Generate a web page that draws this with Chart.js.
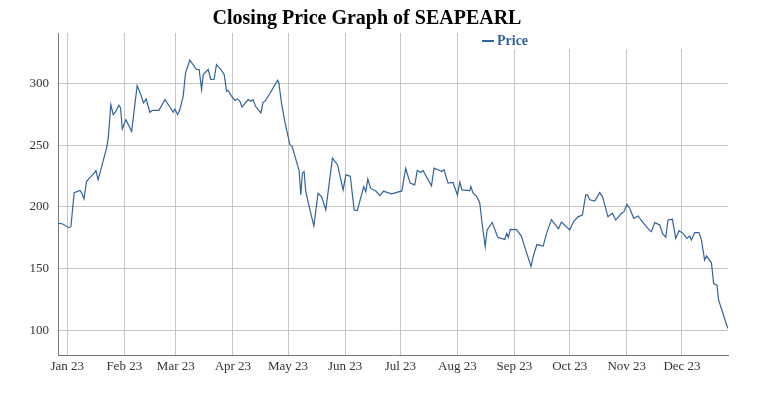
<!DOCTYPE html>
<html>
<head>
<meta charset="utf-8">
<script src="https://cdn.jsdelivr.net/npm/chart.js@4.4.0/dist/chart.umd.min.js"></script>
<style>
  body { margin: 0; background: #fff; }
  canvas { display: block; }
</style>
</head>
<body>
<canvas id="priceChart" width="765" height="400"></canvas>
<script>
// day of year 2023 (Jan 1 = 0) for each closing price
var days = [-5, -2.7, 0.9, 2.0, 3.8, 6.9, 7.8, 9.1, 10.5, 12.3, 14.7, 15.6, 16.8, 19.2, 21.4, 22.3, 23.7, 25.0, 26.4, 28.1,
    29.0, 29.9, 31.9, 35.0, 38.0, 40.0, 41.5, 42.9, 44.9, 46.2, 49.8, 53.1, 55.8, 57.6, 58.5, 60.0, 61.2, 63.0, 64.3, 66.6,
    68.4, 70.3, 71.7, 73.0, 73.9, 76.6, 78.0, 79.8, 81.1, 83.5, 85.3, 86.6, 87.4, 89.3, 91.1, 92.5, 93.8, 95.0, 96.5, 98.3,
    99.8, 101.0, 102.3, 105.2, 106.4, 107.4, 110.1, 112.3, 114.3, 115.0, 116.4, 118.2, 121.0, 122.2, 124.6, 126.0, 126.9, 127.8, 128.7, 129.6,
    131.8, 134.0, 136.3, 138.2, 140.5, 144.1, 146.9, 149.9, 151.4, 153.8, 155.9, 157.6, 161.1, 162.2, 163.3, 164.9, 167.8, 169.8, 171.8, 176.2,
    181.8, 183.9, 186.3, 188.8, 190.2, 192.1, 193.3, 197.9, 199.3, 202.4, 203.3, 204.7, 206.9, 209.6, 212.0, 213.3, 214.5, 218.7, 219.3, 220.5,
    222.3, 224.1, 225.3, 227.1, 228.1, 230.9, 233.9, 237.7, 238.8, 239.7, 240.7, 244.2, 246.8, 249.1, 252.0, 253.3, 255.2, 258.6, 260.4, 263.1,
    266.9, 268.5, 273.0, 275.0, 277.5, 279.9, 281.7, 282.6, 283.9, 286.6, 289.3, 290.8, 293.8, 296.2, 298.0, 301.1, 302.5, 304.1, 305.6, 307.8,
    310.1, 313.2, 316.5, 317.4, 319.2, 321.9, 323.4, 325.2, 326.4, 328.8, 330.6, 332.4, 334.6, 336.7, 338.2, 339.1, 340.9, 343.2, 344.5, 346.3,
    347.3, 350.0, 351.2, 353.0, 353.9, 356.3, 357.7, 359.0];

var prices = [186.7, 186.4, 183.2, 184.0, 211.6, 213.3, 211.6, 206.5, 220.6, 223.8, 227.4, 229.5, 222.0, 235.5, 247.7, 255.8, 282.9, 274.8, 277.5, 282.4,
    280.2, 263.2, 270.7, 261.2, 298.4, 291.0, 284.3, 287.5, 276.7, 278.3, 278.3, 287.0, 281.0, 276.7, 279.4, 274.8, 278.9, 289.7, 308.7, 319.0,
    315.4, 311.4, 311.4, 295.1, 307.3, 311.4, 303.3, 303.3, 315.4, 311.4, 307.3, 293.8, 294.6, 289.7, 286.5, 287.6, 285.7, 281.0, 283.7, 287.0,
    285.7, 287.0, 281.6, 276.2, 284.8, 285.7, 292.0, 297.5, 302.7, 300.6, 284.3, 269.4, 250.4, 249.0, 236.8, 229.5, 209.8, 227.4, 228.7, 212.4,
    198.0, 184.6, 211.1, 208.4, 197.6, 239.6, 234.1, 213.8, 226.0, 225.0, 197.6, 197.0, 216.5, 212.4, 222.7, 215.0, 212.7, 209.2, 212.7, 210.6,
    213.0, 231.2, 219.3, 217.9, 229.5, 227.9, 229.5, 217.1, 231.5, 229.5, 228.7, 230.1, 219.3, 219.8, 209.8, 220.2, 213.8, 213.3, 216.5, 211.1,
    208.9, 203.7, 188.0, 167.7, 181.3, 187.4, 175.4, 173.7, 178.6, 175.4, 181.9, 181.6, 176.2, 165.0, 151.7, 160.5, 169.5, 168.3, 178.6, 189.7,
    182.3, 187.7, 181.3, 188.0, 192.0, 193.5, 209.8, 209.8, 205.8, 204.8, 211.6, 208.4, 192.0, 194.9, 189.4, 194.9, 196.2, 202.2, 199.0, 190.8,
    192.7, 186.7, 180.8, 180.0, 187.3, 185.4, 178.6, 175.4, 189.4, 190.0, 174.5, 180.8, 178.6, 174.5, 176.4, 173.2, 179.2, 179.2, 173.7, 156.9,
    160.2, 154.7, 137.9, 136.6, 124.4, 113.6, 106.8, 101.4];

var monthDays = [0, 31, 59, 90, 120, 151, 181, 212, 243, 273, 304, 334];
var monthLabels = ['Jan 23', 'Feb 23', 'Mar 23', 'Apr 23', 'May 23', 'Jun 23', 'Jul 23', 'Aug 23', 'Sep 23', 'Oct 23', 'Nov 23', 'Dec 23'];
var yTicks = [100, 150, 200, 250, 300];

var lineColor = '#33639b';
var serif = '"Liberation Serif", "Times New Roman", serif';

// legend drawn inside the plot, with a white band behind it like the original
var legendPlugin = {
    id: 'insideLegend',
    afterDraw: function (chart) {
        var ctx = chart.ctx;
        var area = chart.chartArea;
        ctx.save();
        ctx.fillStyle = '#ffffff';
        ctx.fillRect(478, area.top, area.right - 478, 16);
        ctx.strokeStyle = lineColor;
        ctx.lineWidth = 2;
        ctx.beginPath();
        ctx.moveTo(482, 41);
        ctx.lineTo(494, 41);
        ctx.stroke();
        ctx.fillStyle = lineColor;
        ctx.font = 'bold 14px ' + serif;
        ctx.textBaseline = 'middle';
        ctx.fillText('Price', 497, 41);
        ctx.restore();
    }
};

var points = days.map(function (d, i) { return { x: d, y: prices[i] }; });

var ctx = document.getElementById('priceChart').getContext('2d');
var priceChart = new Chart(ctx, {
    type: 'line',
    data: {
        datasets: [{
            label: 'Price',
            data: points,
            borderColor: lineColor,
            borderWidth: 1.2,
            pointRadius: 0,
            tension: 0,
            fill: false
        }]
    },
    options: {
        responsive: false,
        animation: false,
        layout: { padding: { left: 6, right: 37, top: 0, bottom: 0 } },
        plugins: {
            legend: { display: false },
            tooltip: { enabled: false },
            title: {
                display: true,
                text: 'Closing Price Graph of SEAPEARL',
                color: '#000',
                font: { family: serif, size: 20, weight: 'bold' },
                padding: { top: 7, bottom: 2 }
            }
        },
        scales: {
            x: {
                type: 'linear',
                min: -5,
                max: 359,
                afterBuildTicks: function (scale) {
                    scale.ticks = monthDays.map(function (v) { return { value: v }; });
                },
                afterFit: function (scale) { scale.height = 45; },
                ticks: {
                    autoSkip: false,
                    maxRotation: 0,
                    padding: 4,
                    color: '#333',
                    font: { family: serif, size: 13 },
                    callback: function (value, index) { return monthLabels[index]; }
                },
                grid: { color: '#c6c6c6', drawTicks: false },
                border: { color: '#777', width: 1 }
            },
            y: {
                min: 80,
                max: 341,
                afterBuildTicks: function (scale) {
                    scale.ticks = yTicks.map(function (v) { return { value: v }; });
                },
                afterFit: function (scale) { scale.width = 52; },
                ticks: {
                    padding: 9,
                    color: '#333',
                    font: { family: serif, size: 13 }
                },
                grid: { color: '#c6c6c6', drawTicks: false },
                border: { color: '#777', width: 1 }
            }
        }
    },
    plugins: [legendPlugin]
});
</script>
</body>
</html>
